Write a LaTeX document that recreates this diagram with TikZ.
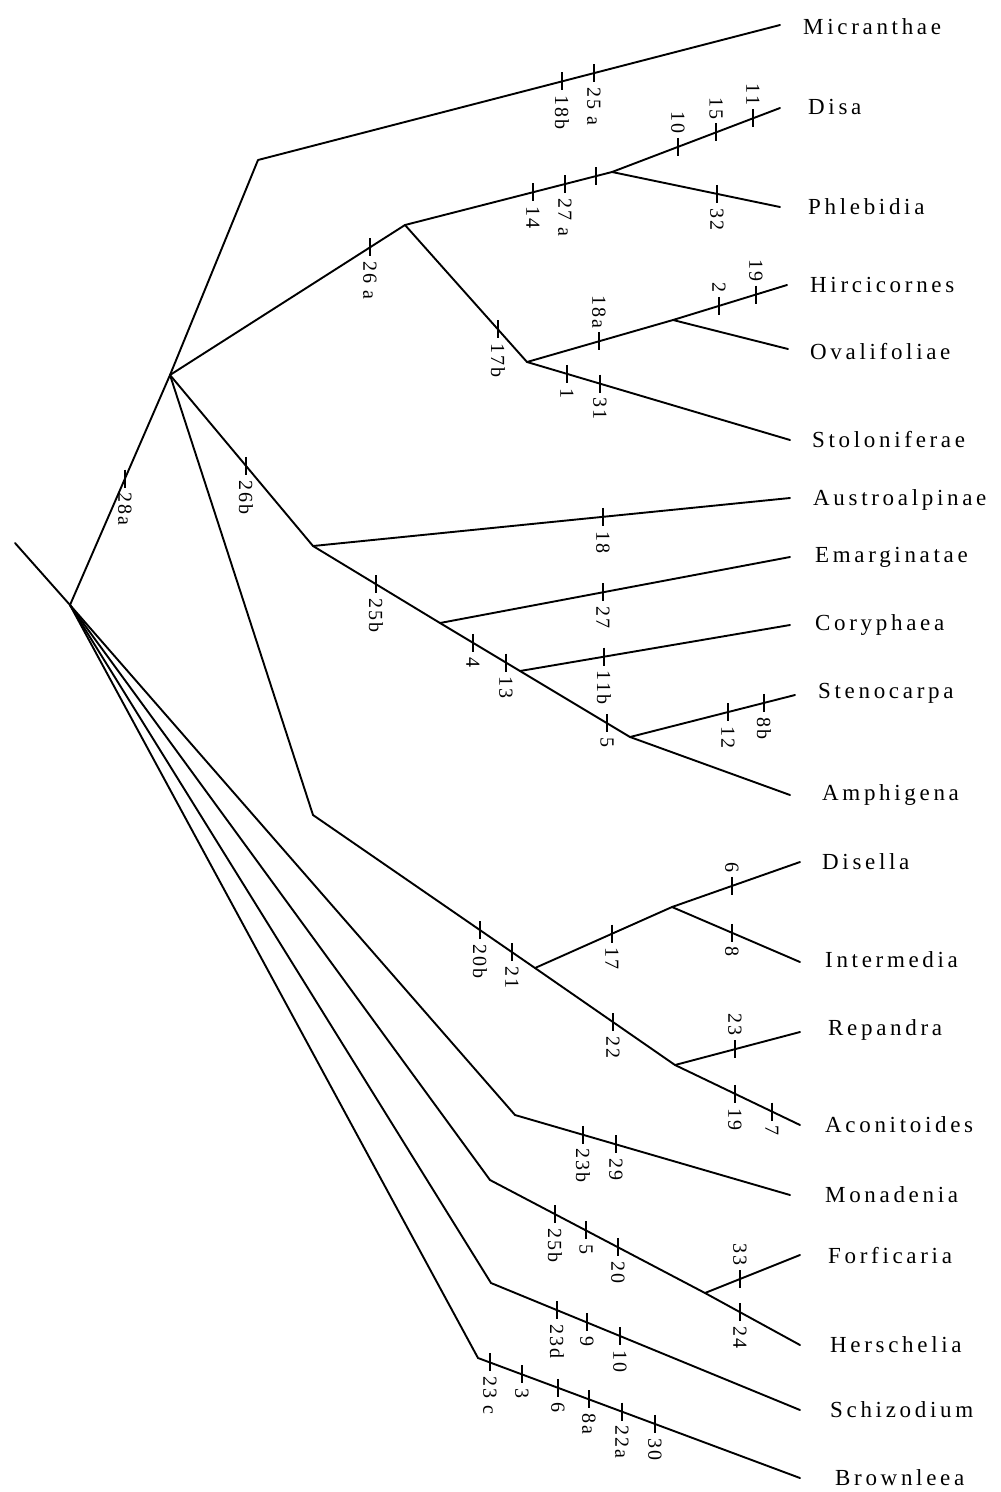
\documentclass[tikz,border=0pt]{standalone}
\usepackage{fontspec}
\setmainfont{Liberation Serif}
\newfontfamily\leaffont[LetterSpace=16]{Liberation Serif}
\newfontfamily\markfont[LetterSpace=10]{Liberation Serif}
\usetikzlibrary{calc}

\tikzset{
  branch/.style={line width=1.9pt, line cap=round, line join=round},
  tickbar/.style={line width=1.8pt},
  taxon/.style={anchor=west, inner sep=0pt, font=\leaffont\fontsize{23}{25}\selectfont},
  chara/.style={rotate=-90, anchor=east, inner sep=2pt, font=\markfont\fontsize{20}{22}\selectfont},
  charb/.style={rotate=-90, anchor=west, inner sep=2pt, font=\markfont\fontsize{20}{22}\selectfont},
}

% character-state mark on the branch #2--#3 at abscissa #4,
% labelled #5 above (a) or below (b) the branch
\newcommand\chr[6]{%
  \path let \p1=(#2), \p2=(#3) in (#2) -- (#3)
    coordinate[pos={(#4-\x1)/(\x2-\x1)}] (#1);
  \draw[tickbar] ($(#1)+(0,-9)$) -- ($(#1)+(0,9)$);
  \if#6a\node[chara] (#1l) at ($(#1)+(0,-11)$) {#5};\else
        \node[charb] (#1l) at ($(#1)+(0,12)$) {#5};\fi
}
% unlabelled mark
\newcommand\plaintick[4]{%
  \path let \p1=(#2), \p2=(#3) in (#2) -- (#3)
    coordinate[pos={(#4-\x1)/(\x2-\x1)}] (#1);
  \draw[tickbar] ($(#1)+(0,-9)$) -- ($(#1)+(0,9)$);
}

\begin{document}
\begin{tikzpicture}[x=1pt, y=-1pt]
\fill[white] (0,0) rectangle (1001,1492);
\useasboundingbox (0,0) rectangle (1001,1492);

% internal nodes
\coordinate (stem) at (15,543);
\coordinate (R)   at (70,605);
\coordinate (N1)  at (170,375);
\coordinate (N2)  at (258,160);
\coordinate (N3)  at (405,225);
\coordinate (N4)  at (612,172);
\coordinate (N5)  at (527,362);
\coordinate (N6)  at (673,320);
\coordinate (N7)  at (313,546);
\coordinate (N8)  at (440,623);
\coordinate (N9)  at (520,671);
\coordinate (N10) at (630,737);
\coordinate (N11) at (313,815);
\coordinate (N12) at (535,968);
\coordinate (N13) at (672,907);
\coordinate (N14) at (675,1065);
\coordinate (N15) at (515,1115);
\coordinate (N16) at (490,1180);
\coordinate (N17) at (705,1293);
\coordinate (N18) at (491,1283);
\coordinate (N19) at (478,1358);

% branch tips
\coordinate (tMic) at (780,25);
\coordinate (tDisa) at (780,108);
\coordinate (tPhl) at (780,207);
\coordinate (tHir) at (787,285);
\coordinate (tOva) at (788,349);
\coordinate (tSto) at (790,440);
\coordinate (tAus) at (790,498);
\coordinate (tEma) at (790,557);
\coordinate (tCor) at (790,625);
\coordinate (tSte) at (795,695);
\coordinate (tAmp) at (790,795);
\coordinate (tDis) at (800,862);
\coordinate (tInt) at (800,962);
\coordinate (tRep) at (800,1032);
\coordinate (tAco) at (800,1125);
\coordinate (tMon) at (790,1195);
\coordinate (tFor) at (800,1255);
\coordinate (tHer) at (800,1345);
\coordinate (tSch) at (800,1410);
\coordinate (tBro) at (800,1478);

% taxon names
\node[taxon] (Mic) at (803,27) {Micranthae};
\node[taxon] (Disa) at (808,107) {Disa};
\node[taxon] (Phl) at (808,207) {Phlebidia};
\node[taxon] (Hir) at (810,285) {Hircicornes};
\node[taxon] (Ova) at (810,352) {Ovalifoliae};
\node[taxon] (Sto) at (812,440) {Stoloniferae};
\node[taxon] (Aus) at (813,500) {Austroalpinae};
\node[taxon] (Ema) at (815,557) {Emarginatae};
\node[taxon] (Cor) at (815,625) {Coryphaea};
\node[taxon] (Ste) at (818,693) {Stenocarpa};
\node[taxon] (Amp) at (822,795) {Amphigena};
\node[taxon] (Dis) at (822,862) {Disella};
\node[taxon] (Int) at (825,960) {Intermedia};
\node[taxon] (Rep) at (828,1030) {Repandra};
\node[taxon] (Aco) at (825,1125) {Aconitoides};
\node[taxon] (Mon) at (825,1195) {Monadenia};
\node[taxon] (For) at (828,1255) {Forficaria};
\node[taxon] (Her) at (830,1345) {Herschelia};
\node[taxon] (Sch) at (830,1410) {Schizodium};
\node[taxon] (Bro) at (835,1478) {Brownleea};

% branches
\draw[branch] (stem) -- (R);
\draw[branch] (R) -- (N1);
\draw[branch] (N1) -- (N2) -- (tMic);
\draw[branch] (N1) -- (N3) -- (N4) -- (tDisa);
\draw[branch] (N4) -- (tPhl);
\draw[branch] (N3) -- (N5) -- (N6) -- (tHir);
\draw[branch] (N6) -- (tOva);
\draw[branch] (N5) -- (tSto);
\draw[branch] (N1) -- (N7) -- (tAus);
\draw[branch] (N7) -- (N8) -- (tEma);
\draw[branch] (N8) -- (N9) -- (tCor);
\draw[branch] (N9) -- (N10) -- (tSte);
\draw[branch] (N10) -- (tAmp);
\draw[branch] (N1) -- (N11) -- (N12) -- (N13) -- (tDis);
\draw[branch] (N13) -- (tInt);
\draw[branch] (N12) -- (N14) -- (tRep);
\draw[branch] (N14) -- (tAco);
\draw[branch] (R) -- (N15) -- (tMon);
\draw[branch] (R) -- (N16) -- (N17) -- (tFor);
\draw[branch] (N17) -- (tHer);
\draw[branch] (R) -- (N18) -- (tSch);
\draw[branch] (R) -- (N19) -- (tBro);

% character states
\chr{c01}{R}{N1}{125}{28a}{b}
\chr{c02}{N2}{tMic}{562}{18b}{b}
\chr{c03}{N2}{tMic}{594}{25 a}{b}
\chr{c04}{N1}{N3}{370}{26 a}{b}
\chr{c05}{N3}{N4}{533}{14}{b}
\chr{c06}{N3}{N4}{565}{27 a}{b}
\plaintick{c07}{N3}{N4}{596}
\chr{c08}{N4}{tDisa}{678}{10}{a}
\chr{c09}{N4}{tDisa}{716}{15}{a}
\chr{c10}{N4}{tDisa}{753}{11}{a}
\chr{c11}{N4}{tPhl}{717}{32}{b}
\chr{c12}{N3}{N5}{498}{17b}{b}
\chr{c13}{N5}{N6}{599}{18a}{a}
\chr{c14}{N6}{tHir}{719}{2}{a}
\chr{c15}{N6}{tHir}{756}{19}{a}
\chr{c16}{N5}{tSto}{567}{1}{b}
\chr{c17}{N5}{tSto}{600}{31}{b}
\chr{c18}{N1}{N7}{246}{26b}{b}
\chr{c19}{N7}{tAus}{603}{18}{b}
\chr{c20}{N7}{N8}{376}{25b}{b}
\chr{c21}{N8}{tEma}{603}{27}{b}
\chr{c22}{N8}{N9}{473}{4}{b}
\chr{c23}{N8}{N9}{506}{13}{b}
\chr{c24}{N9}{tCor}{604}{11b}{b}
\chr{c25}{N9}{N10}{607}{5}{b}
\chr{c26}{N10}{tSte}{728}{12}{b}
\chr{c27}{N10}{tSte}{764}{8b}{b}
\chr{c28}{N11}{N12}{480}{20b}{b}
\chr{c29}{N11}{N12}{512}{21}{b}
\chr{c30}{N12}{N13}{612}{17}{b}
\chr{c31}{N13}{tDis}{732}{6}{a}
\chr{c32}{N13}{tInt}{732}{8}{b}
\chr{c33}{N12}{N14}{613}{22}{b}
\chr{c34}{N14}{tRep}{735}{23}{a}
\chr{c35}{N14}{tAco}{735}{19}{b}
\chr{c36}{N14}{tAco}{772}{7}{b}
\chr{c37}{N15}{tMon}{583}{23b}{b}
\chr{c38}{N15}{tMon}{616}{29}{b}
\chr{c39}{N16}{N17}{555}{25b}{b}
\chr{c40}{N16}{N17}{586}{5}{b}
\chr{c41}{N16}{N17}{618}{20}{b}
\chr{c42}{N17}{tFor}{740}{33}{a}
\chr{c43}{N17}{tHer}{740}{24}{b}
\chr{c44}{N18}{tSch}{557}{23d}{b}
\chr{c45}{N18}{tSch}{587}{9}{b}
\chr{c46}{N18}{tSch}{620}{10}{b}
\chr{c47}{N19}{tBro}{490}{23 c}{b}
\chr{c48}{N19}{tBro}{522}{3}{b}
\chr{c49}{N19}{tBro}{558}{6}{b}
\chr{c50}{N19}{tBro}{589}{8a}{b}
\chr{c51}{N19}{tBro}{622}{22a}{b}
\chr{c52}{N19}{tBro}{655}{30}{b}
\end{tikzpicture}
\end{document}
